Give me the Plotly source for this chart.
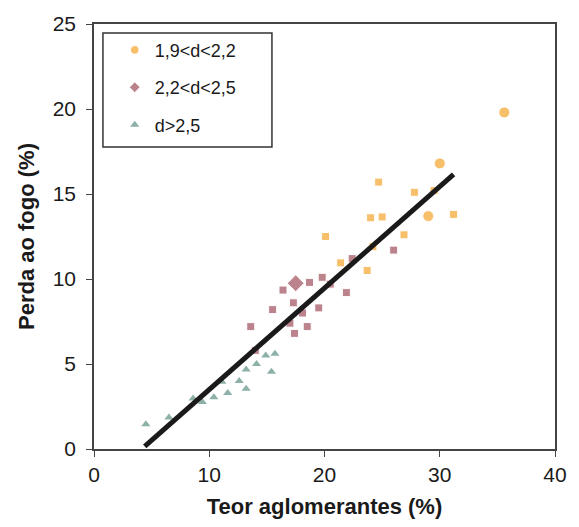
import plotly.graph_objects as go

# Series 1: 1,9<d<2,2 (orange)
s1_x = [30.0, 35.6, 29.0, 24.7, 27.8, 29.5, 31.2, 24.0, 25.0, 20.1, 26.9, 24.2, 21.4, 23.7]
s1_y = [16.8, 19.8, 13.7, 15.7, 15.1, 15.2, 13.8, 13.6, 13.65, 12.5, 12.6, 11.9, 10.95, 10.5]
s1_sym = ["circle", "circle", "circle"] + ["square"] * 11

# Series 2: 2,2<d<2,5 (red)
s2_x = [17.5, 26.0, 22.4, 19.8, 20.5, 18.7, 16.4, 21.9, 17.3, 15.5, 19.5, 18.1, 17.0, 18.5, 17.4, 13.6, 14.0]
s2_y = [9.75, 11.7, 11.2, 10.1, 9.7, 9.8, 9.35, 9.2, 8.6, 8.2, 8.3, 8.0, 7.4, 7.2, 6.8, 7.2, 5.8]
s2_sym = ["diamond"] + ["square"] * 16

# Series 3: d>2,5 (green)
s3_x = [14.9, 15.7, 14.1, 13.2, 15.4, 12.6, 11.1, 13.2, 11.6, 10.4, 8.6, 9.4, 6.5, 4.5]
s3_y = [5.5, 5.6, 5.0, 4.67, 4.55, 4.0, 3.95, 3.55, 3.3, 3.05, 2.97, 2.77, 1.85, 1.45]

# Fitted line end points
fit_x = [4.4, 31.2]
fit_y = [0.15, 16.15]

names = ["1,9<d<2,2", "2,2<d<2,5", "d>2,5"]
c_orange = "#F5A42C"
c_red = "#A14F5C"
c_green = "#8DB0A8"

fig = go.Figure()
fig.add_trace(go.Scatter(x=s1_x, y=s1_y, mode="markers", name=names[0], legendgroup="a",
                         marker=dict(symbol=s1_sym, color=c_orange,
                                     size=[11 if s == "circle" else 8 for s in s1_sym])))
fig.add_trace(go.Scatter(x=s2_x, y=s2_y, mode="markers", name=names[1], legendgroup="b",
                         marker=dict(symbol=s2_sym, color=c_red,
                                     size=[13 if s == "diamond" else 8 for s in s2_sym])))
fig.add_trace(go.Scatter(x=s3_x, y=s3_y, mode="markers", name=names[2], legendgroup="c",
                         marker=dict(symbol="triangle-up", color=c_green, size=8)))
fig.add_trace(go.Scatter(x=fit_x, y=fit_y, mode="lines", showlegend=False,
                         line=dict(color="#1a1a1a", width=5)))

axis_common = dict(showgrid=False, zeroline=False, showline=True, linecolor="#444444",
                   linewidth=1.5, mirror=True, ticks="outside", ticklen=6,
                   tickcolor="#444444",
                   tickfont=dict(family="Liberation Sans, Arial", size=21, color="#1a1a1a"))

fig.update_xaxes(range=[0, 40], dtick=10, tick0=0,
                 title=dict(text="<b>Teor aglomerantes (%)</b>", standoff=14,
                            font=dict(family="Liberation Sans, Arial", size=22, color="#1a1a1a")),
                 **axis_common)
fig.update_yaxes(range=[0, 25], dtick=5, tick0=0,
                 title=dict(text="<b>Perda ao fogo (%)</b>", standoff=12,
                            font=dict(family="Liberation Sans, Arial", size=22, color="#1a1a1a")),
                 ticklabelstandoff=6,
                 **axis_common)

fig.update_layout(
    width=579, height=527,
    margin=dict(l=94, r=21, t=19, b=76),
    plot_bgcolor="white", paper_bgcolor="white",
    legend=dict(x=0.045, y=0.982, xanchor="left", yanchor="top",
                borderwidth=0, bgcolor="rgba(0,0,0,0)",
                font=dict(family="Liberation Sans, Arial", size=18, color="#1a1a1a"),
                tracegroupgap=11, itemsizing="trace"),
    shapes=[dict(type="rect", xref="paper", yref="paper",
                 x0=0.0194, x1=0.386, y0=0.7106, y1=0.979,
                 line=dict(color="#333333", width=1.5), fillcolor="rgba(0,0,0,0)",
                 layer="above")],
)

fig.write_html("out.html")
